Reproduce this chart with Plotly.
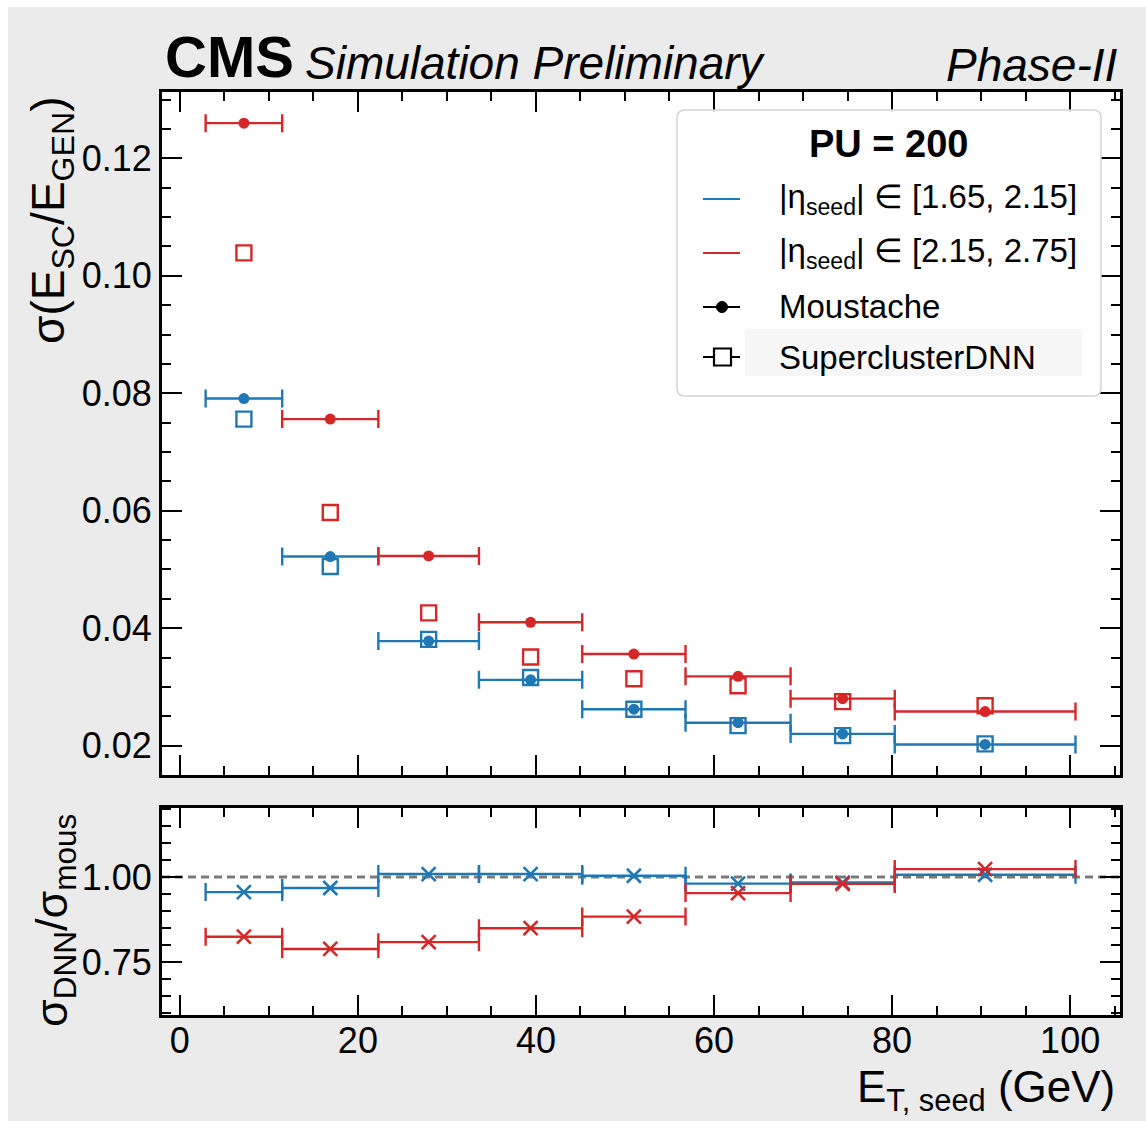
import plotly.graph_objects as go

# ---------------- data ----------------
bin_edges = [2.9, 11.5, 22.3, 33.6, 45.2, 56.8, 68.6, 80.3, 100.6]
bin_centers = [7.2, 16.9, 27.95, 39.4, 51.0, 62.7, 74.45, 90.45]

blue_moustache = [0.0791, 0.0522, 0.0378, 0.0312, 0.0262, 0.0239, 0.0220, 0.0202]
blue_dnn = [0.0756, 0.0505, 0.0381, 0.0316, 0.0262, 0.0234, 0.0217, 0.0203]
red_moustache = [0.1260, 0.0756, 0.0523, 0.0410, 0.0356, 0.0318, 0.0280, 0.0258]
red_dnn = [0.1039, 0.0597, 0.0426, 0.0351, 0.0314, 0.0302, 0.0275, 0.0268]

blue_ratio = [0.956, 0.968, 1.009, 1.009, 1.004, 0.981, 0.984, 1.007]
red_ratio = [0.825, 0.789, 0.809, 0.850, 0.884, 0.953, 0.980, 1.0235]

BLUE = "#1f77b4"
RED = "#d62728"
FONT = "Liberation Sans, Arial, sans-serif"

W, H = 1146, 1121


def X(p):
    return p / W


def Y(p):
    return 1 - p / H


err_plus = [bin_edges[i + 1] - c for i, c in enumerate(bin_centers)]
err_minus = [c - bin_edges[i] for i, c in enumerate(bin_centers)]


def xerr(color):
    return dict(type="data", symmetric=False, array=err_plus, arrayminus=err_minus,
                color=color, thickness=2.4, width=9)


fig = go.Figure()

for color, mous, dnn in [(BLUE, blue_moustache, blue_dnn), (RED, red_moustache, red_dnn)]:
    fig.add_trace(go.Scatter(x=bin_centers, y=mous, mode="markers",
                             marker=dict(symbol="circle", size=11, color=color),
                             error_x=xerr(color), xaxis="x", yaxis="y", showlegend=False))
    fig.add_trace(go.Scatter(x=bin_centers, y=dnn, mode="markers",
                             marker=dict(symbol="square-open", size=15, color=color,
                                         line=dict(width=2.4, color=color)),
                             xaxis="x", yaxis="y", showlegend=False))

for color, ratio in [(BLUE, blue_ratio), (RED, red_ratio)]:
    fig.add_trace(go.Scatter(x=bin_centers, y=ratio, mode="markers",
                             marker=dict(symbol="x-thin-open", size=14, color=color,
                                         line=dict(width=2.6, color=color)),
                             error_x=xerr(color), xaxis="x2", yaxis="y2", showlegend=False))

axis_common = dict(showline=True, linewidth=3, linecolor="black", mirror="allticks",
                   ticks="inside", ticklen=20, tickwidth=2, tickcolor="black",
                   showgrid=False, zeroline=False,
                   tickfont=dict(family=FONT, size=36, color="black"))

xdom = [X(162), X(1120)]
xrange_ = [-2.0, 105.6]

fig.update_layout(
    width=W, height=H,
    margin=dict(l=0, r=0, t=0, b=0),
    paper_bgcolor="#ebebeb", plot_bgcolor="white",
    font=dict(family=FONT, color="black"),
    xaxis=dict(domain=xdom, anchor="y", range=xrange_, dtick=20, tick0=0,
               showticklabels=False,
               minor=dict(ticks="inside", ticklen=9, tickwidth=1.5, dtick=5, tick0=0,
                          tickcolor="black", showgrid=False),
               **axis_common),
    xaxis2=dict(domain=xdom, anchor="y2", range=xrange_, dtick=20, tick0=0,
                showticklabels=True, ticklabelstandoff=-8,
                minor=dict(ticks="inside", ticklen=9, tickwidth=1.5, dtick=5, tick0=0,
                           tickcolor="black", showgrid=False),
                **axis_common),
    yaxis=dict(domain=[Y(775), Y(92)], anchor="x", range=[0.0150, 0.1313],
               dtick=0.02, tick0=0, tickformat=".2f",
               minor=dict(ticks="inside", ticklen=9, tickwidth=1.5, dtick=0.005, tick0=0,
                          tickcolor="black", showgrid=False),
               **axis_common),
    yaxis2=dict(domain=[Y(1015), Y(808)], anchor="x2", range=[0.595, 1.203],
                dtick=0.25, tick0=0, tickformat=".2f",
                minor=dict(ticks="inside", ticklen=9, tickwidth=1.5, dtick=0.05, tick0=0,
                           tickcolor="black", showgrid=False),
                **axis_common),
)

shapes = []
# white page strips outside the grey figure
shapes.append(dict(type="rect", xref="paper", yref="paper", x0=0, x1=X(8), y0=0, y1=1,
                   fillcolor="white", line=dict(width=0), layer="below"))
shapes.append(dict(type="rect", xref="paper", yref="paper", x0=0, x1=1, y0=Y(7), y1=1,
                   fillcolor="white", line=dict(width=0), layer="below"))
# ratio reference line
shapes.append(dict(type="line", xref="x2 domain", yref="y2", x0=0, x1=1, y0=1, y1=1,
                   line=dict(color="#7a7a7a", width=3, dash="8px,5px"), layer="below"))

# legend box (rounded)
lx0, lx1, ly0, ly1, r = 677, 1101, 110, 396, 8
path = (f"M {X(lx0 + r)},{Y(ly0)} L {X(lx1 - r)},{Y(ly0)} "
        f"Q {X(lx1)},{Y(ly0)} {X(lx1)},{Y(ly0 + r)} L {X(lx1)},{Y(ly1 - r)} "
        f"Q {X(lx1)},{Y(ly1)} {X(lx1 - r)},{Y(ly1)} L {X(lx0 + r)},{Y(ly1)} "
        f"Q {X(lx0)},{Y(ly1)} {X(lx0)},{Y(ly1 - r)} L {X(lx0)},{Y(ly0 + r)} "
        f"Q {X(lx0)},{Y(ly0)} {X(lx0 + r)},{Y(ly0)} Z")
shapes.append(dict(type="path", xref="paper", yref="paper", path=path,
                   fillcolor="rgba(255,255,255,0.85)", line=dict(color="#d4d4d4", width=1.5)))
shapes.append(dict(type="rect", xref="paper", yref="paper", x0=X(745), x1=X(1082),
                   y0=Y(376), y1=Y(329), fillcolor="#f7f7f7", line=dict(width=0)))

rows = [199, 253, 307, 357]
for yy, col in [(rows[0], BLUE), (rows[1], RED), (rows[2], "black"), (rows[3], "black")]:
    shapes.append(dict(type="line", xref="paper", yref="paper", x0=X(703), x1=X(740),
                       y0=Y(yy), y1=Y(yy), line=dict(color=col, width=2.2)))
shapes.append(dict(type="circle", xref="paper", yref="paper", x0=X(716.5), x1=X(727.5),
                   y0=Y(rows[2] + 5.5), y1=Y(rows[2] - 5.5), fillcolor="black",
                   line=dict(color="black", width=1)))
shapes.append(dict(type="rect", xref="paper", yref="paper", x0=X(714), x1=X(731),
                   y0=Y(rows[3] + 8.5), y1=Y(rows[3] - 8.5), fillcolor="white",
                   line=dict(color="black", width=2.2)))
fig.update_layout(shapes=shapes)

ann = []
ann.append(dict(text="<b>CMS</b>", x=X(163), y=Y(57), xanchor="left", yanchor="middle",
                font=dict(size=58, family=FONT)))
ann.append(dict(text="<i>Simulation Preliminary</i>", x=X(303), y=Y(63), xanchor="left",
                yanchor="middle", font=dict(size=46, family=FONT)))
ann.append(dict(text="<i>Phase-II</i>", x=X(1120), y=Y(65), xanchor="right",
                yanchor="middle", font=dict(size=46, family=FONT)))
ann.append(dict(text="σ(E<sub>SC</sub>/E<sub>GEN</sub>)", x=X(51), y=Y(220),
                xanchor="center", yanchor="middle", textangle=-90,
                font=dict(size=46, family=FONT)))
ann.append(dict(text="σ<sub>DNN</sub>/σ<sub>mous</sub>", x=X(54), y=Y(921),
                xanchor="center", yanchor="middle", textangle=-90,
                font=dict(size=45, family=FONT)))
ann.append(dict(text="E<sub>T, seed</sub> (GeV)", x=X(1117), y=Y(1090), xanchor="right",
                yanchor="middle", font=dict(size=44, family=FONT)))
ann.append(dict(text="<b>PU = 200</b>", x=X(889), y=Y(144), xanchor="center",
                yanchor="middle", font=dict(size=38, family=FONT)))
labels = ["|η<sub>seed</sub>| ∈ [1.65, 2.15]", "|η<sub>seed</sub>| ∈ [2.15, 2.75]",
          "Moustache", "SuperclusterDNN"]
for yy, lab in zip(rows, labels):
    ann.append(dict(text=lab, x=X(777), y=Y(yy), xanchor="left", yanchor="middle",
                    font=dict(size=33, family=FONT)))
for a in ann:
    a.update(xref="paper", yref="paper", showarrow=False)
fig.update_layout(annotations=ann)

fig.write_html("out.html")
